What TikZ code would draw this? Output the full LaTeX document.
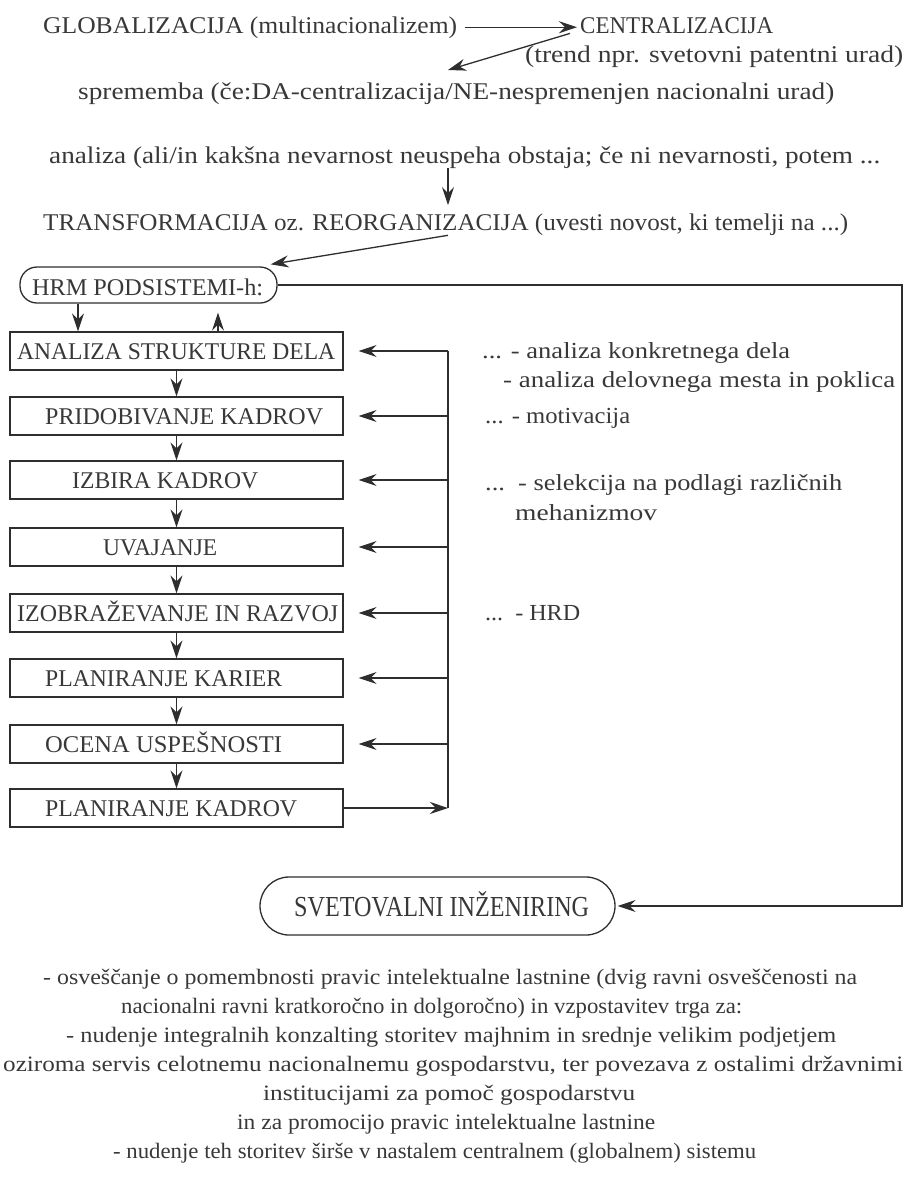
\documentclass[tikz,border=0pt]{standalone}
\usepackage{fontspec}
\setmainfont{Liberation Serif}
\usepackage{graphicx}
\usetikzlibrary{arrows.meta}
\definecolor{ink}{HTML}{2E2E2E}
\definecolor{txtc}{HTML}{383838}
\newlength\fitlen
\newcommand\fitw[2]{\settowidth{\fitlen}{#2}\pgfmathsetmacro\fitsx{#1/\fitlen}\scalebox{\fitsx}[1]{#2}}
\begin{document}
\begin{tikzpicture}[x=1pt,y=-1pt,
  ttxt/.style={inner sep=0pt, anchor=base west, text=txtc, font=\fontsize{24}{28}\selectfont},
  btxt/.style={inner sep=0pt, anchor=base west, text=txtc, font=\fontsize{24}{28}\selectfont},
  rtxt/.style={inner sep=0pt, anchor=base west, text=txtc, font=\fontsize{23}{27}\selectfont},
  ltxt/.style={inner sep=0pt, anchor=base west, text=txtc, font=\fontsize{22}{26}\selectfont},
  hbox/.style={draw=ink, line width=1.3pt, minimum width=333pt, minimum height=38pt, inner sep=0pt},
  rbox/.style={draw=ink, line width=1.3pt, inner sep=0pt},
  conn/.style={draw=ink, line width=1.3pt},
  arr/.style={draw=ink, line width=1.3pt, -{Stealth[length=18pt,width=12pt,inset=6pt]}}
]
\useasboundingbox (0,0) rectangle (905,1181);

% ---- top ----
\node[ttxt] (glob) at (43,33) {\fitw{414}{GLOBALIZACIJA (multinacionalizem)}};
\node[ttxt] (centr) at (580,33) {\fitw{193}{CENTRALIZACIJA}};
\node[ttxt] (trend) at (525,62) {\fitw{378}{(trend npr. svetovni patentni urad)}};
\node[ttxt] (sprem) at (78,99) {\fitw{756}{sprememba (če:DA-centralizacija/NE-nespremenjen nacionalni urad)}};
\node[ttxt] (anal) at (49,163) {\fitw{831}{analiza (ali/in kakšna nevarnost neuspeha obstaja; če ni nevarnosti, potem ...}};
\node[ttxt] (transf) at (43,230) {\fitw{805}{TRANSFORMACIJA oz. REORGANIZACIJA (uvesti novost, ki temelji na ...)}};

\coordinate (dtip) at (448,70);
\coordinate (c448) at (448,0);
\draw[arr] ([xshift=8pt]glob.east) -- ([xshift=-3pt]centr.west |- glob.east);
\draw[arr] ([xshift=-10pt]centr.south west) -- (dtip);
\draw[arr, shorten >=8pt] (anal.south -| c448) -- (transf.north -| c448);

% ---- HRM ----
\node[rbox, minimum width=257pt, minimum height=36pt, rounded corners=17pt] (hrm) at (148.5,285) {};
\node[ttxt] (hrmt) at (32,295) {\fitw{231}{HRM PODSISTEMI-h:}};
\draw[arr] (transf.south -| c448) -- ([xshift=-7pt,yshift=2pt]hrm.north east);

% ---- boxes ----
\node[hbox] (b1) at (176.5,351) {};
\node[hbox] (b2) at (176.5,416) {};
\node[hbox] (b3) at (176.5,480) {};
\node[hbox] (b4) at (176.5,547) {};
\node[hbox] (b5) at (176.5,613) {};
\node[hbox] (b6) at (176.5,678) {};
\node[hbox] (b7) at (176.5,744) {};
\node[hbox] (b8) at (176.5,808) {};
\node[btxt] (t1) at (17,359.5) {\fitw{318}{ANALIZA STRUKTURE DELA}};
\node[btxt] (t2) at (45,424.5) {\fitw{278}{PRIDOBIVANJE KADROV}};
\node[btxt] (t3) at (72,488.5) {\fitw{186}{IZBIRA KADROV}};
\node[btxt] (t4) at (103,555.5) {\fitw{114}{UVAJANJE}};
\node[btxt] (t5) at (17,621.5) {\fitw{321}{IZOBRAŽEVANJE IN RAZVOJ}};
\node[btxt] (t6) at (45,686.5) {\fitw{237}{PLANIRANJE KARIER}};
\node[btxt] (t7) at (45,752.5) {\fitw{237}{OCENA USPEŠNOSTI}};
\node[btxt] (t8) at (45,816.5) {\fitw{252}{PLANIRANJE KADROV}};

\coordinate (dA) at (78,0);
\coordinate (dB) at (218,0);
\draw[arr] (hrm.south -| dA) -- (b1.north -| dA);
\draw[arr, shorten >=9pt] (b1.north -| dB) -- (hrm.south -| dB);

\foreach \a/\b in {b1/b2,b2/b3,b3/b4,b4/b5,b5/b6,b6/b7,b7/b8}
  \draw[arr] (\a.south) -- (\b.north);

% feedback
\coordinate (fbx) at (448,0);
\draw[conn] (b1.east -| fbx) -- (b8.east -| fbx);
\foreach \a in {b1,b2,b3,b4,b5,b6,b7}
  \draw[arr, shorten >=15pt] (\a.east -| fbx) -- (\a.east);
\draw[arr] (b8.east) -- (b8.east -| fbx);

% ---- right texts ----
\node[rtxt] (r1) at (482,358) {\fitw{308}{... - analiza konkretnega dela}};
\node[rtxt] (r2) at (503,387) {\fitw{392}{- analiza delovnega mesta in poklica}};
\node[rtxt] (r3) at (485,423) {\fitw{145}{... - motivacija}};
\node[rtxt] (r4) at (485,490) {\fitw{357}{...\ \ - selekcija na podlagi različnih}};
\node[rtxt] (r5) at (515,520) {\fitw{142}{mehanizmov}};
\node[rtxt] (r6) at (485,620) {\fitw{95}{...\ \ - HRD}};

% ---- SVETOVALNI ----
\node[rbox, minimum width=355pt, minimum height=58pt, rounded corners=29pt] (svet) at (437.5,906) {};
\node[inner sep=0pt, anchor=base west, text=txtc, font=\fontsize{29}{33}\selectfont] (svett) at (294,916) {\fitw{295}{SVETOVALNI INŽENIRING}};
\coordinate (rx) at (902,0);
\draw[arr, shorten >=2pt] (hrm.east) -- (hrm.east -| rx) -- (svet.east -| rx) -- (svet.east);

% ---- bottom text ----
\node[ltxt] (l1) at (43,984) {\fitw{814}{- osveščanje o pomembnosti pravic intelektualne lastnine (dvig ravni osveščenosti na}};
\node[ltxt] (l2) at (121,1013) {\fitw{621}{nacionalni ravni kratkoročno in dolgoročno) in vzpostavitev trga za:}};
\node[ltxt] (l3) at (66,1042) {\fitw{770}{- nudenje integralnih konzalting storitev majhnim in srednje velikim podjetjem}};
\node[ltxt] (l4) at (3,1071) {\fitw{900}{oziroma servis celotnemu nacionalnemu gospodarstvu, ter povezava z ostalimi državnimi}};
\node[ltxt] (l5) at (263,1100) {\fitw{372}{institucijami za pomoč gospodarstvu}};
\node[ltxt] (l6) at (237,1129) {\fitw{418}{in za promocijo pravic intelektualne lastnine}};
\node[ltxt] (l7) at (113,1158) {\fitw{643}{- nudenje teh storitev širše v nastalem centralnem (globalnem) sistemu}};
\end{tikzpicture}
\end{document}
